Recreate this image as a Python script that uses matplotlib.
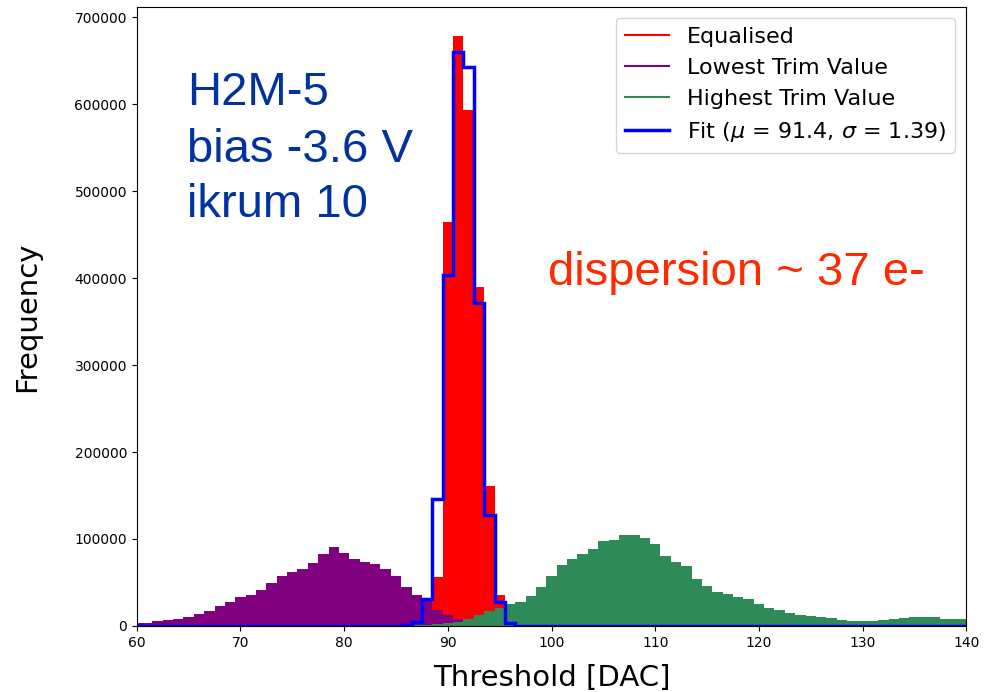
import numpy as np
import matplotlib
matplotlib.use("Agg")
from matplotlib import pyplot as plt
from matplotlib.lines import Line2D

# bin centres (1 DAC wide bins)
thresholds = np.arange(60, 141)

# Equalised
eq_bins = [86, 87, 88, 89, 90, 91, 92, 93, 94, 95, 96, 97]
eq_counts = [1000, 3000, 10000, 56000, 464000, 678000, 593000, 390000, 161000, 36000, 3000, 800]

# Lowest trim value
low_bins = list(range(60, 98))
low_counts = [3800, 4000, 6000, 7000, 8000, 10000, 13400, 17600, 23000, 27000,
              33000, 36000, 41000, 49000, 57500, 61700, 65500, 72800, 82700, 90400,
              83900, 76600, 73000, 71500, 66000, 58000, 45000, 36000, 30000, 18400,
              12600, 8000, 5000, 3500, 2000, 1000, 500, 200]

# Highest trim value
high_bins = list(range(86, 141))
high_counts = [300, 600, 1000, 2000, 3000, 5000, 7700, 13000, 17000, 21000,
               25000, 28000, 34900, 44400, 57500, 70100, 77400, 82400, 88100, 97700,
               99200, 104600, 104600, 100700, 94600, 80800, 73900, 69300, 54000, 46000,
               39500, 36400, 33700, 30600, 24900, 21100, 18400, 14600, 12600, 11900,
               10700, 8800, 6900, 5700, 5400, 6100, 6900, 8000, 8800, 10000,
               10000, 10000, 8400, 7700, 7700]

# Gaussian fit, binned
fit_bins = [85, 86, 87, 88, 89, 90, 91, 92, 93, 94, 95, 96, 97]
fit_counts = [300, 1000, 5000, 31000, 146000, 403000, 660000, 643000, 371000, 128000, 27000, 4000, 500]

fit_label = r"Fit ($\mu$ = 91.4, $\sigma$ = 1.39)"


def full(bins, counts):
    w = np.zeros(len(thresholds))
    for b, c in zip(bins, counts):
        w[b - 60] = c
    return w


edges = np.arange(59.5, 141.5, 1.0)

fig = plt.figure(figsize=(9.84, 6.92), dpi=100)
ax = fig.add_axes([0.139, 0.0954, 0.843, 0.895])

ax.hist(thresholds, bins=edges, weights=full(eq_bins, eq_counts), histtype='stepfilled',
        color='red')
ax.hist(thresholds, bins=edges, weights=full(low_bins, low_counts), histtype='stepfilled',
        color='purple')
ax.hist(thresholds, bins=edges, weights=full(high_bins, high_counts), histtype='stepfilled',
        color='seagreen')
ax.hist(thresholds, bins=edges, weights=full(fit_bins, fit_counts), histtype='step',
        color='blue', linewidth=2.5)

ax.set_xlim(60, 140)
ax.set_ylim(0, 712000)
ax.set_xlabel("Threshold [DAC]", fontsize=21, labelpad=10)
ax.set_ylabel("Frequency", fontsize=21, labelpad=24)
ax.tick_params(labelsize=10)

handles = [Line2D([], [], color='red', lw=1.5),
           Line2D([], [], color='purple', lw=1.5),
           Line2D([], [], color='seagreen', lw=1.5),
           Line2D([], [], color='blue', lw=2.5)]
ax.legend(handles, ["Equalised", "Lowest Trim Value", "Highest Trim Value", fit_label],
          loc='upper right', fontsize=16)

blue_txt = '#0033a0'
for line, base in zip(["H2M-5", "bias -3.6 V", "ikrum 10"], [105, 161.7, 216.7]):
    fig.text(187 / 984, 1 - base / 692, line, fontsize=34, color=blue_txt,
             family='Liberation Sans', va='baseline', ha='left')

fig.text(548 / 984, 1 - 285 / 692, "dispersion ~ 37 e-", fontsize=34, color='#ff2b00',
         family='Liberation Sans', va='baseline', ha='left')

fig.savefig("out.png", dpi=100)
